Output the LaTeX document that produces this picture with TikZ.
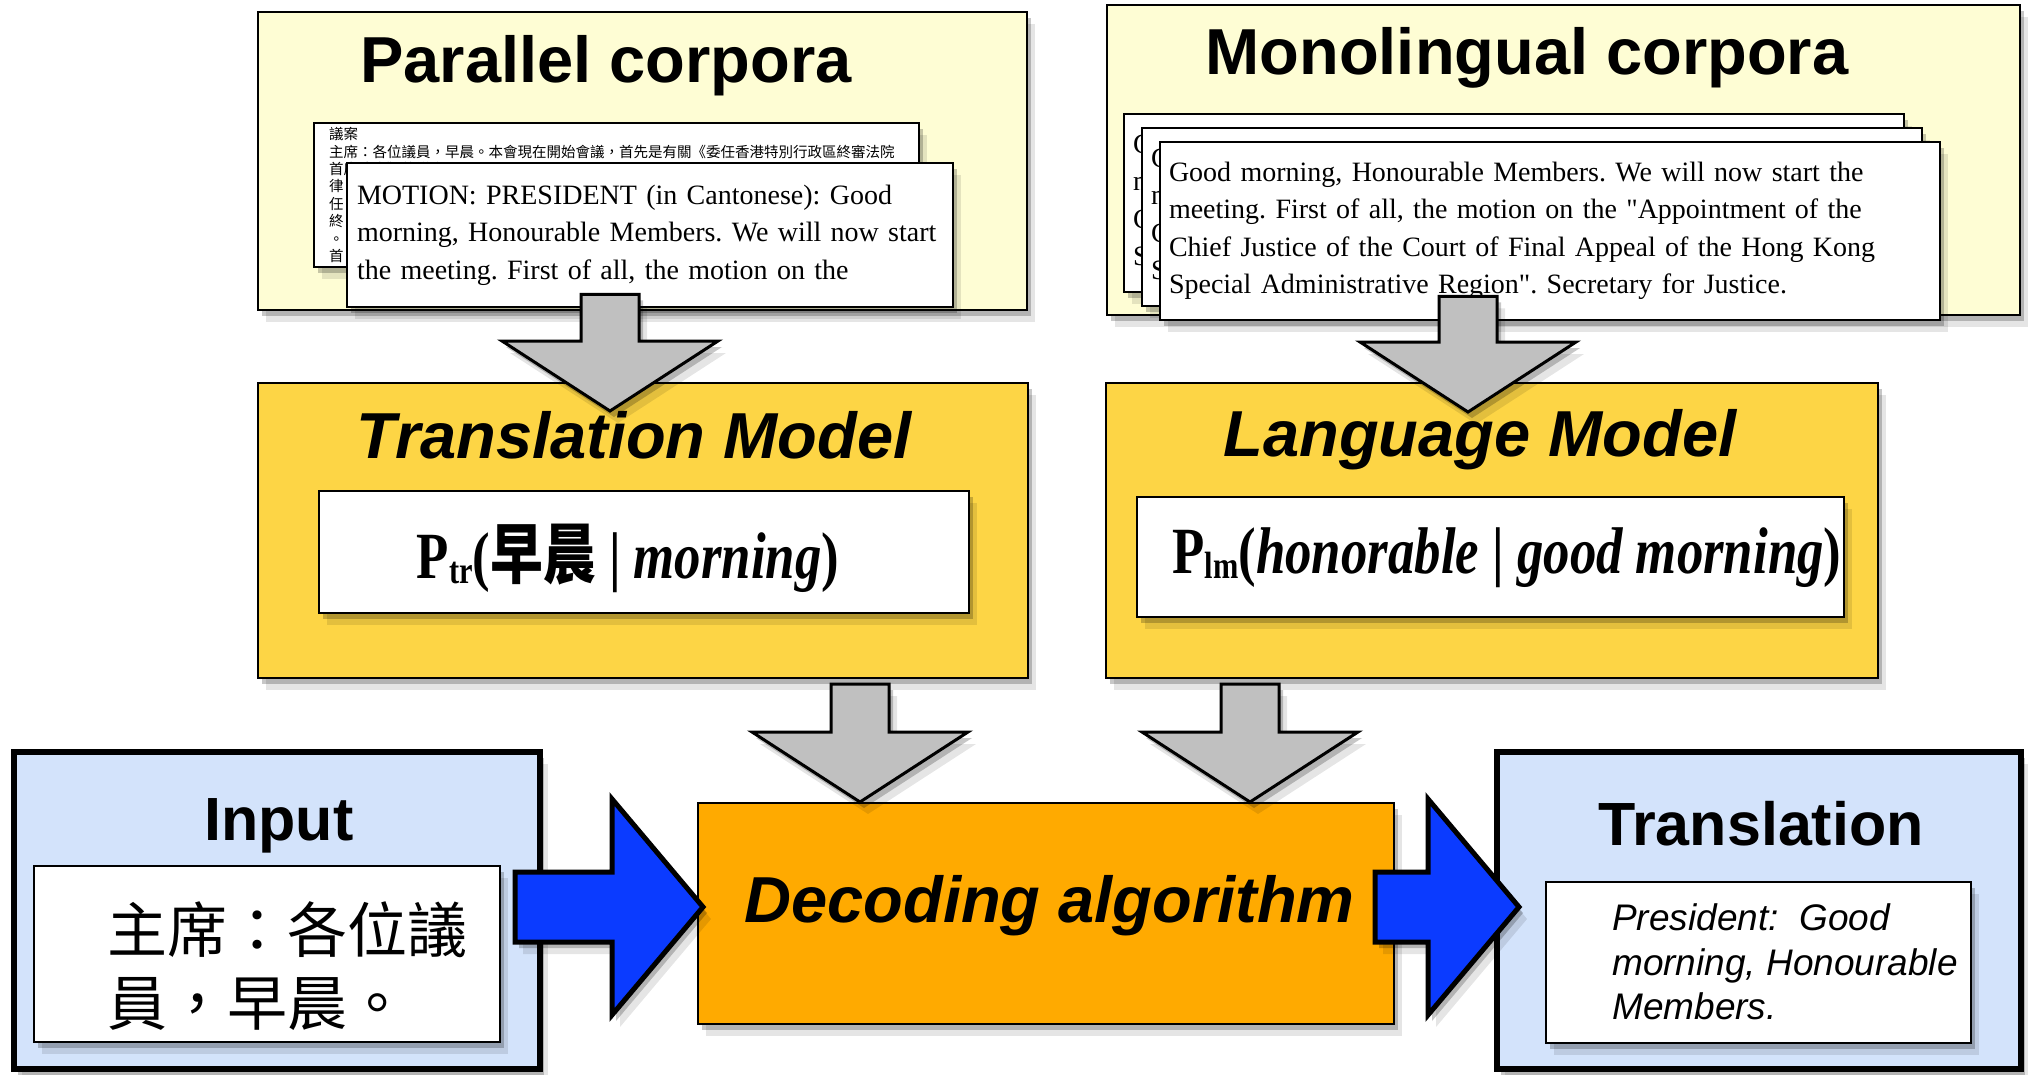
\documentclass[tikz,border=0pt]{standalone}
\usepackage{fontspec}
\usetikzlibrary{calc}
\newfontfamily\headfont{Liberation Sans}
\newfontfamily\docfont{Liberation Serif}
\newfontfamily\probfont{Liberation Serif}[FakeStretch=0.8]
\newfontfamily\cjk{Noto Sans CJK TC}
\newfontfamily\cjkprob{Noto Sans CJK TC}[FakeStretch=0.8]
\definecolor{CorpusYellow}{HTML}{FEFDD4}
\definecolor{ModelGold}{HTML}{FDD545}
\definecolor{DecodeOrange}{HTML}{FFAA00}
\definecolor{IOBlue}{HTML}{D3E3FB}
\definecolor{ArrowBlue}{HTML}{0B3BFF}
\definecolor{ArrowGray}{HTML}{C0C0C0}
\frenchspacing

% block arrows: tail, tip
\newcommand{\blockdown}[2]{%
  \draw[grayblock] let \p1=(#1), \p2=(#2) in
    (\x1-29pt,\y1) -- (\x1-29pt,\y2+70pt) -- (\x1-108pt,\y2+70pt) -- (\x1,\y2)
    -- (\x1+108pt,\y2+70pt) -- (\x1+29pt,\y2+70pt) -- (\x1+29pt,\y1) -- cycle;}
\newcommand{\blockright}[2]{%
  \draw[blueblock] let \p1=(#1), \p2=(#2) in
    (\x1,\y1+35pt) -- (\x2-91pt,\y1+35pt) -- (\x2-91pt,\y1+108pt) -- (\x2,\y1)
    -- (\x2-91pt,\y1-108pt) -- (\x2-91pt,\y1-35pt) -- (\x1,\y1-35pt) -- cycle;}
\newcommand{\probsub}[1]{\raisebox{-5pt}{\fontsize{38}{40}\selectfont #1}}
\newcommand{\montext}{Good morning, Honourable Members. We will now start the\\
meeting. First of all, the motion on the "Appointment of the\\
Chief Justice of the Court of Final Appeal of the Hong Kong\\
Special Administrative Region". Secretary for Justice.}

\begin{document}
\begin{tikzpicture}[
  x=1pt, y=-1pt,
  boxshadow/.style={
    preaction={fill=black, fill opacity=0.10, transform canvas={xshift=8pt, yshift=-12pt}},
    preaction={fill=black, fill opacity=0.22, transform canvas={xshift=4pt, yshift=-6pt}}
  },
  corpusbox/.style={draw=black, line width=2.5pt, fill=CorpusYellow, boxshadow, inner sep=0pt},
  modelbox/.style={draw=black, line width=2pt, fill=ModelGold, boxshadow, inner sep=0pt},
  iobox/.style={draw=black, line width=6pt, fill=IOBlue, boxshadow, inner sep=0pt},
  innerbox/.style={draw=black, line width=2.5pt, fill=white, boxshadow, inner sep=0pt},
  docpage/.style={
    draw=black,
    line width=2.5pt,
    fill=white,
    boxshadow,
    align=left,
    font=\docfont\fontsize{28}{37.5}\selectfont
  },
  headtext/.style={font=\headfont\bfseries\fontsize{65}{70}\selectfont, inner sep=0pt},
  modelhead/.style={font=\headfont\bfseries\itshape\fontsize{65}{70}\selectfont, inner sep=0pt},
  iohead/.style={font=\headfont\bfseries\fontsize{61}{66}\selectfont, inner sep=0pt},
  probtext/.style={font=\probfont\bfseries\fontsize{66}{70}\selectfont, inner sep=0pt},
  zhtext/.style={font=\cjk\fontsize{60}{73}\selectfont, align=left, inner sep=0pt},
  outtext/.style={font=\headfont\itshape\fontsize{37}{44.5}\selectfont, align=left, inner sep=0pt},
  grayblock/.style={draw=black, line width=3pt, fill=ArrowGray, boxshadow},
  blueblock/.style={draw=black, line width=5pt, fill=ArrowBlue, boxshadow}
]
\useasboundingbox (0,0) rectangle (2028,1075);

% Parallel corpora
\node[corpusbox, minimum width=769pt, minimum height=298pt] (pc) at (642.5,161) {};
\node[headtext] (pctitle) at (606,66) {Parallel corpora};
\node[docpage, text width=575pt, inner xsep=15pt, minimum height=144pt,
  font=\cjk\fontsize{14.5}{17.4}\selectfont] (pczh) at (616.5,195) {
  議案\\
  主席：各位議員，早晨。本會現在開始會議，首先是有關《委任香港特別行政區終審法院\\
  首席法官》的議案\\
  律\\
  任\\
  終\\
  。\\
  首
};
\node[docpage, text width=586pt, inner xsep=10pt, minimum height=144pt] (pcen) at (650,235) {
  MOTION: PRESIDENT (in Cantonese): Good\\
  morning, Honourable Members. We will now start\\
  the meeting. First of all, the motion on the
};

% Monolingual corpora
\node[corpusbox, minimum width=913pt, minimum height=310pt] (mc) at (1563.5,160) {};
\node[headtext] (mctitle) at (1527,58) {Monolingual corpora};
\node[docpage, text width=762pt, inner xsep=9pt, minimum height=178pt] (mback) at (1514,203) {\montext};
\node[docpage, text width=762pt, inner xsep=9pt, minimum height=178pt] (mmid) at (1532,217) {\montext};
\node[docpage, text width=762pt, inner xsep=9pt, minimum height=178pt] (mfront) at (1550,231) {\montext};

% Translation Model
\node[modelbox, minimum width=770pt, minimum height=295pt] (tm) at (643,530.5) {};
\node[modelhead] (tmtitle) at (634,435) {Translation Model};
\node[innerbox, minimum width=650pt, minimum height=122pt] (tmbox) at (644,552) {};
\node[probtext] (tmeq) at (628,558) {P\probsub{tr}({\cjkprob\bfseries 早晨} | \textit{morning})};

% Language Model
\node[modelbox, minimum width=772pt, minimum height=295pt] (lm) at (1492,530.5) {};
\node[modelhead] (lmtitle) at (1480,440) {Language Model};
\node[innerbox, minimum width=707pt, minimum height=120pt] (lmbox) at (1490.5,557) {};
\node[probtext] (lmeq) at (1507,558) {P\probsub{lm}(\textit{honorable} | \textit{good morning})};

% Decoding algorithm
\node[modelbox, fill=DecodeOrange, minimum width=696pt, minimum height=221pt] (dec) at (1046,913.5) {};
\node[modelhead] (dectitle) at (1049.5,906) {Decoding algorithm};

% Input
\node[iobox, minimum width=526pt, minimum height=317pt] (inbox) at (277,910.5) {};
\node[iohead] (intitle) at (279,826) {Input};
\node[innerbox, minimum width=466pt, minimum height=176pt] (inpage) at (267,954) {};
\node[zhtext] (intext) at (287,966) {主席：各位議\\員，早晨。};

% Translation
\node[iobox, minimum width=524pt, minimum height=317pt] (out) at (1759,910.5) {};
\node[iohead] (outtitle) at (1761,824) {Translation};
\node[innerbox, minimum width=425pt, minimum height=161pt] (outpage) at (1758.5,962.5) {};
\node[outtext, anchor=west] (outtxt) at (1612,962) {President:~~Good\\morning, Honourable\\Members.};

% Arrows
\blockdown{[xshift=-40pt,yshift=14pt]pcen.south}{[xshift=-33pt,yshift=-29pt]tm.north}
\blockdown{[xshift=-82pt,yshift=25pt]mfront.south}{[xshift=-24pt,yshift=-30pt]lm.north}
\blockdown{[xshift=217pt,yshift=-5pt]tm.south}{[xshift=-186pt]dec.north}
\blockdown{[xshift=-242pt,yshift=-5pt]lm.south}{[xshift=204pt]dec.north}
\blockright{[xshift=-28pt,yshift=3.5pt]inbox.east}{[xshift=6pt,yshift=6.5pt]dec.west}
\blockright{[xshift=-20pt,yshift=6.5pt]dec.east}{[xshift=25pt,yshift=3.5pt]out.west}
\end{tikzpicture}
\end{document}
